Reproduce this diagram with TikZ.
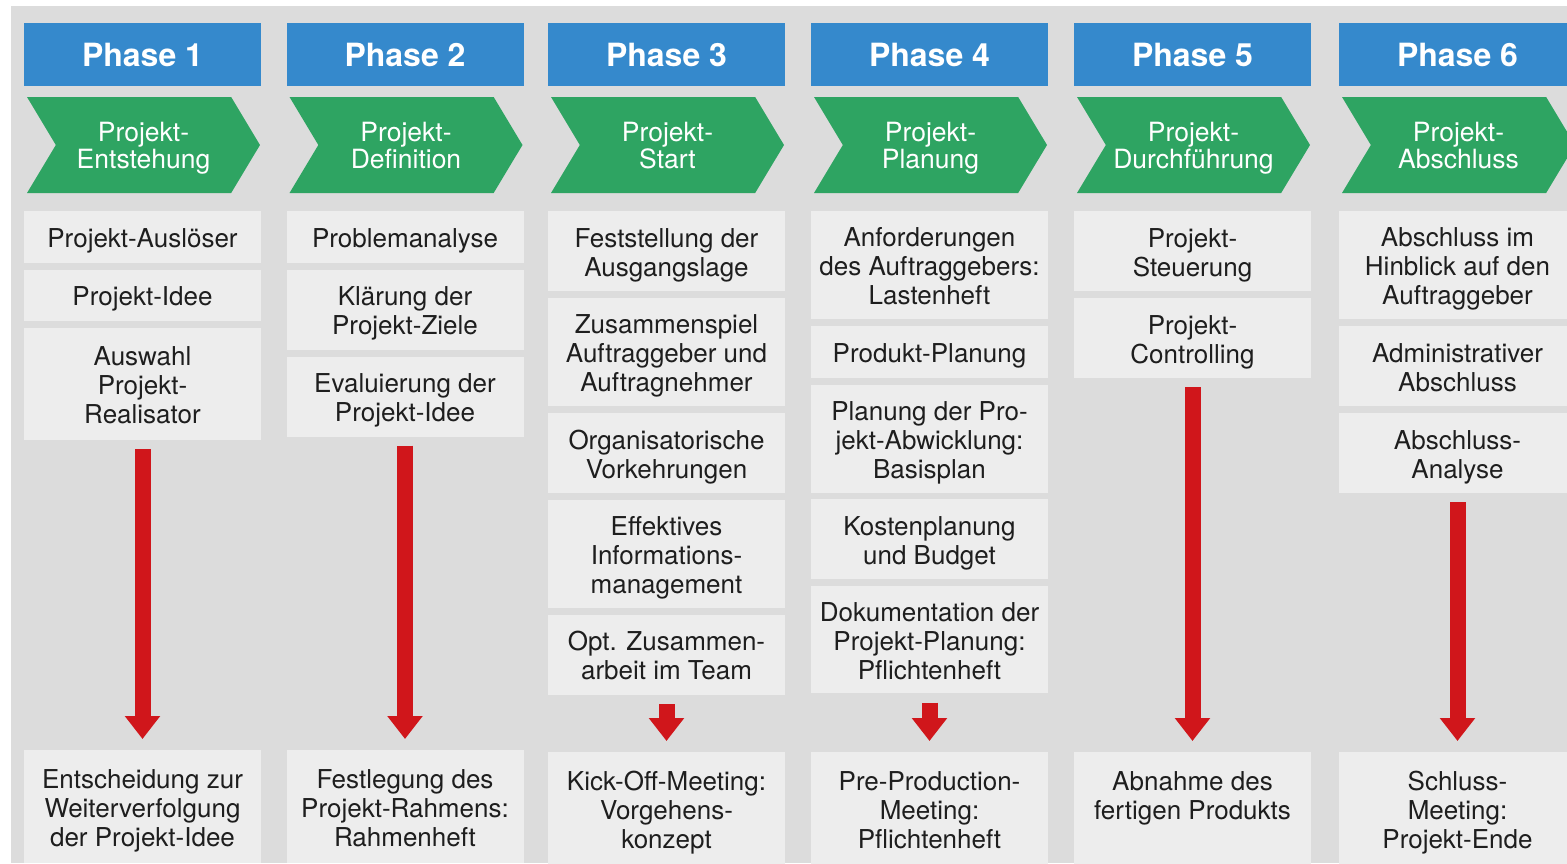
\documentclass[tikz,border=0pt]{standalone}
\usepackage{fontspec}
\setmainfont{TeX Gyre Heros}
\usetikzlibrary{positioning,shapes.symbols,arrows.meta}
\definecolor{phaseBlue}{HTML}{3589CC}
\definecolor{phaseGreen}{HTML}{2EA462}
\definecolor{arrowRed}{HTML}{D0161B}
\definecolor{backGray}{HTML}{DCDCDC}
\definecolor{boxGray}{HTML}{EDEDED}
\definecolor{taskText}{HTML}{1E1E1E}
\newcommand{\colWidth}{237pt}
\newcommand{\boxGap}{6.5pt}

\begin{document}
\begin{tikzpicture}[x=1pt, y=1pt,
         phasehead/.style={fill=phaseBlue, text=white, minimum width=\colWidth,
            minimum height=63pt, inner sep=0pt,
            font=\fontsize{32}{32}\selectfont\bfseries},
         phasename/.style={shape=signal, signal from=west, signal to=east,
            signal pointer angle=118, fill=phaseGreen, text=white,
            minimum width=233pt, minimum height=96pt, inner sep=0pt, align=center,
            font=\fontsize{26.5}{27}\selectfont, text height=50.5pt, text depth=3.5pt},
         task/.style={fill=boxGray, text=taskText, minimum width=\colWidth,
            inner xsep=1pt, inner ysep=0pt, align=center,
            font=\fontsize{26}{29}\selectfont, text depth=4pt},
         one/.style={task, minimum height=51.5pt, text height=25pt},
         two/.style={task, minimum height=80pt, text height=54pt},
         three/.style={task, minimum height=108pt, text height=83pt},
         result/.style={three, minimum height=113pt, anchor=north},
         flow/.style={draw=arrowRed, line width=16pt,
            -{Triangle[width=34pt,length=23pt]}, shorten <=9pt, shorten >=11pt},
         node distance=\boxGap]
         \useasboundingbox (0,0) rectangle (1567,-863);
         \fill[backGray] (11,-6) rectangle (1567,-863);

         % phase headers and names
         \foreach \i/\x/\name in {1/142.5/Entstehung, 2/405/Definition, 3/666.5/Start,
            4/929.5/Planung, 5/1192.5/Durchführung, 6/1457.5/Abschluss}
         {
            \node[phasehead] (h\i) at (\x,-54.5) {Phase \i};
            \node[phasename] (p\i) at (\x+1,-145) {Projekt-\\\name};
         }

         % phase 1
         \node[one, anchor=north] (c1a) at (142.5,-211) {Projekt-Auslöser};
         \node[one, below=of c1a] (c1b) {Projekt-Idee};
         \node[three, below=of c1b, minimum height=112pt] (c1c) {Auswahl\\Projekt-\\Realisator};
         \node[result] (r1) at (142.5,-750) {Entscheidung zur\\Weiterverfolgung\\der Projekt-Idee};

         % phase 2
         \node[one, anchor=north] (c2a) at (405,-211) {Problemanalyse};
         \node[two, below=of c2a] (c2b) {Klärung der\\Projekt-Ziele};
         \node[two, below=of c2b] (c2c) {Evaluierung der\\Projekt-Idee};
         \node[result] (r2) at (405,-750) {Festlegung des\\Projekt-Rahmens:\\Rahmenheft};

         % phase 3
         \node[two, anchor=north] (c3a) at (666.5,-211) {Feststellung der\\Ausgangslage};
         \node[three, below=of c3a] (c3b) {Zusammenspiel\\Auftraggeber und\\Auftragnehmer};
         \node[two, below=of c3b] (c3c) {Organisatorische\\Vorkehrungen};
         \node[three, below=of c3c] (c3d) {Effektives\\Informations-\\management};
         \node[two, below=of c3d] (c3e) {Opt. Zusammen-\\arbeit im Team};
         \node[result] (r3) at (666.5,-752) {Kick-Off-Meeting:\\Vorgehens-\\konzept};

         % phase 4
         \node[three, anchor=north] (c4a) at (929.5,-211) {Anforderungen\\des Auftraggebers:\\Lastenheft};
         \node[one, below=of c4a] (c4b) {Produkt-Planung};
         \node[three, below=of c4b] (c4c) {Planung der Pro-\\jekt-Abwicklung:\\Basisplan};
         \node[two, below=of c4c] (c4d) {Kostenplanung\\und Budget};
         \node[three, below=of c4d, minimum height=107pt] (c4e) {Dokumentation der\\Projekt-Planung:\\Pflichtenheft};
         \node[result] (r4) at (929.5,-752) {Pre-Production-\\Meeting:\\Pflichtenheft};

         % phase 5
         \node[two, anchor=north] (c5a) at (1192.5,-211) {Projekt-\\Steuerung};
         \node[two, below=of c5a] (c5b) {Projekt-\\Controlling};
         \node[result] (r5) at (1192.5,-752) {Abnahme des\\fertigen Produkts\\\mbox{}};

         % phase 6
         \node[three, anchor=north] (c6a) at (1457.5,-211) {Abschluss im\\Hinblick auf den\\Auftraggeber};
         \node[two, below=of c6a] (c6b) {Administrativer\\Abschluss};
         \node[two, below=of c6b] (c6c) {Abschluss-\\Analyse};
         \node[result] (r6) at (1457.5,-752) {Schluss-\\Meeting:\\Projekt-Ende};

         % result arrows
         \draw[flow] (c1c) -- (r1);
         \draw[flow] (c2c) -- (r2);
         \draw[flow] (c3e) -- (r3);
         \draw[flow] (c4e) -- (r4);
         \draw[flow] (c5b) -- (r5);
         \draw[flow] (c6c) -- (r6);
      \end{tikzpicture}
\end{document}
